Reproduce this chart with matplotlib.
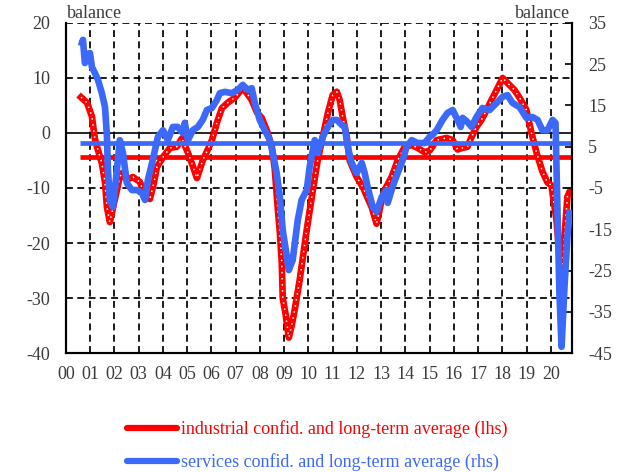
import numpy as np
import matplotlib.pyplot as plt
from matplotlib.lines import Line2D

plt.rcParams['font.family'] = ['Liberation Serif', 'DejaVu Serif']
plt.rcParams['axes.unicode_minus'] = False

# industrial confidence (lhs), decimal years
ind_t = [2000.62, 2000.87, 2001.07, 2001.19, 2001.28, 2001.48, 2001.61, 2001.69, 2001.81,
         2002.02, 2002.22, 2002.31, 2002.51, 2002.76, 2003.05, 2003.26, 2003.46, 2003.63,
         2003.75, 2004.00, 2004.29, 2004.57, 2004.78, 2005.03, 2005.19, 2005.40, 2005.64,
         2005.85, 2006.02, 2006.22, 2006.43, 2006.67, 2006.96, 2007.29, 2007.50, 2007.66,
         2007.87, 2008.08, 2008.28, 2008.49, 2008.61, 2008.74, 2008.82, 2008.90, 2008.94,
         2009.06, 2009.19, 2009.31, 2009.44, 2009.64, 2009.93, 2010.14, 2010.38, 2010.59,
         2010.80, 2011.00, 2011.17, 2011.29, 2011.41, 2011.58, 2011.70, 2011.99, 2012.24,
         2012.61, 2012.81, 2012.98, 2013.14, 2013.43, 2013.68, 2013.97, 2014.26, 2014.50,
         2014.79, 2015.00, 2015.29, 2015.70, 2015.95, 2016.15, 2016.36, 2016.56, 2016.73,
         2016.93, 2017.14, 2017.35, 2017.55, 2017.76, 2018.01, 2018.21, 2018.50, 2018.71,
         2018.99, 2019.20, 2019.41, 2019.65, 2019.86, 2020.02, 2020.23, 2020.35, 2020.44,
         2020.56, 2020.68, 2020.77]
ind_v = [6.5, 5.5, 3.0, -1.0, -2.5, -5.5, -9.0, -13.5, -16.2,
         -12.0, -8.0, -7.3, -8.5, -8.0, -8.9, -11.5, -12.0, -9.0,
         -6.2, -4.4, -2.7, -2.5, -1.0, -3.6, -5.5, -8.2, -5.0,
         -3.0, -1.3, 1.8, 4.5, 5.5, 6.4, 8.2, 7.0, 6.0,
         3.8, 2.7, 0.5, -2.5, -6.5, -14.0, -18.0, -23.6, -30.0,
         -33.0, -37.2, -35.0, -32.0, -26.7, -17.6, -11.6, -5.0, -0.7,
         3.6, 6.9, 7.5, 6.0, 3.0, -0.7, -5.0, -8.0, -9.8,
         -13.5, -16.5, -13.0, -10.4, -8.0, -5.0, -2.5, -2.2, -2.7,
         -3.5, -3.2, -1.3, -0.9, -1.3, -3.0, -2.7, -2.5, -0.7,
         1.1, 2.4, 4.2, 6.0, 7.8, 10.0, 9.1, 7.8, 6.4,
         4.2, 0.0, -3.6, -7.0, -9.0, -9.5, -15.8, -22.0, -27.0,
         -19.0, -11.6, -10.7]
ind_avg = -4.3

# services confidence (rhs), decimal years
srv_t = [2000.66, 2000.70, 2000.78, 2000.91, 2000.99, 2001.07, 2001.19, 2001.32, 2001.48,
         2001.61, 2001.69, 2001.73, 2001.81, 2001.94, 2002.10, 2002.22, 2002.35, 2002.51,
         2002.72, 2002.93, 2003.13, 2003.26, 2003.38, 2003.58, 2003.79, 2004.00, 2004.20,
         2004.41, 2004.61, 2004.82, 2004.90, 2005.03, 2005.23, 2005.44, 2005.64, 2005.81,
         2006.02, 2006.22, 2006.35, 2006.55, 2006.84, 2007.09, 2007.29, 2007.50, 2007.66,
         2007.79, 2007.99, 2008.20, 2008.41, 2008.53, 2008.69, 2008.82, 2008.94, 2009.11,
         2009.19, 2009.35, 2009.56, 2009.72, 2009.93, 2010.05, 2010.26, 2010.38, 2010.59,
         2010.80, 2011.00, 2011.17, 2011.37, 2011.50, 2011.62, 2011.78, 2011.99, 2012.20,
         2012.32, 2012.44, 2012.65, 2012.81, 2013.02, 2013.23, 2013.27, 2013.47, 2013.68,
         2013.89, 2014.05, 2014.26, 2014.50, 2014.79, 2015.00, 2015.12, 2015.29, 2015.53,
         2015.74, 2015.95, 2016.15, 2016.28, 2016.36, 2016.56, 2016.73, 2016.93, 2017.18,
         2017.47, 2017.76, 2018.01, 2018.21, 2018.42, 2018.71, 2018.99, 2019.24, 2019.45,
         2019.65, 2019.86, 2020.07, 2020.19, 2020.27, 2020.35, 2020.44, 2020.56, 2020.68,
         2020.77]
srv_v = [30.2, 30.9, 25.3, 27.5, 27.7, 24.3, 22.9, 21.2, 18.0,
         14.6, 7.4, -0.6, -7.9, -9.6, -0.6, 6.6, 3.5, -3.8,
         -5.5, -5.5, -6.2, -7.9, -3.0, 1.8, 7.4, 9.0, 6.6,
         9.8, 9.8, 8.3, 10.8, 6.6, 9.0, 9.8, 11.5, 13.9,
         14.4, 16.3, 18.0, 18.3, 18.0, 18.8, 20.0, 18.8, 19.2,
         15.6, 11.5, 9.0, 6.6, 3.5, -1.4, -7.0, -15.2, -21.7,
         -24.9, -22.5, -12.8, -7.9, -5.5, 0.1, 6.6, 3.5, 7.4,
         9.8, 11.5, 11.5, 10.3, 9.8, 5.0, 1.1, -1.4, 1.1,
         -1.4, -4.7, -9.6, -10.8, -7.2, -5.5, -8.6, -4.7, -1.4,
         1.8, 5.0, 6.6, 5.9, 5.9, 7.4, 7.9, 9.0, 11.5,
         13.2, 13.9, 11.5, 9.8, 12.0, 11.0, 9.8, 12.2, 14.4,
         13.9, 15.6, 17.1, 17.5, 15.6, 14.6, 12.0, 12.2, 11.5,
         9.0, 9.0, 11.5, 10.8, -10.0, -30.0, -43.5, -29.0, -16.9,
         -11.0]
srv_avg = 6.0

years = list(range(2000, 2021))
year_labels = ['%02d' % (y - 2000) for y in years]

RED = '#ff0000'
BLUE = '#3d69fa'
TXT = '#3a3a3a'
FS = 13
grid_ls = (0, (4, 2.5))

fig = plt.figure(figsize=(6.26, 4.72), dpi=100)
ax = fig.add_axes([0.1054, 0.2521, 0.8083, 0.6992])
ax2 = ax.twinx()

ax.set_xlim(2000, 2020.87)
ax.set_ylim(-40, 20)
ax2.set_ylim(-45, 35)

# grid
for y in [-30, -20, -10, 10, 20]:
    ax.axhline(y, color='black', lw=1.25, ls=grid_ls, zorder=1)
for x in years[1:]:
    ax.axvline(x, color='black', lw=1.25, ls=grid_ls, zorder=1)
ax.axhline(0, color='black', lw=1.2, zorder=1)

t0, t1 = ind_t[0] - 0.05, ax.get_xlim()[1]
ax.plot([t0, t1], [ind_avg, ind_avg], color=RED, lw=3.4, zorder=2, solid_capstyle='butt')
ax2.plot([t0, t1], [srv_avg, srv_avg], color=BLUE, lw=3.4, zorder=2, solid_capstyle='butt')

ax.plot(ind_t, ind_v, color=RED, lw=4.8, zorder=3, solid_joinstyle='round')
ax.plot(ind_t, ind_v, color='white', lw=1.1, ls=(0, (1, 3)), zorder=4)
ax2.plot(srv_t, srv_v, color=BLUE, lw=4.8, zorder=5, solid_joinstyle='round')

ax.set_xticks(years)
ax.set_xticklabels(year_labels)
ax.set_yticks([20, 10, 0, -10, -20, -30, -40])
ax2.set_yticks([35, 25, 15, 5, -5, -15, -25, -35, -45])

ax.tick_params(axis='x', length=0, pad=9, labelsize=FS, labelcolor=TXT)
ax.tick_params(axis='y', length=0, pad=11.5, labelsize=FS, labelcolor=TXT)
ax2.tick_params(axis='y', direction='in', length=5, width=1.2, pad=11.5, labelsize=FS, labelcolor=TXT)

for a in (ax, ax2):
    a.spines['top'].set_visible(False)
    for s in ('left', 'right', 'bottom'):
        a.spines[s].set_linewidth(1.5)
        a.spines[s].set_color('black')

fig.text(0.107, 0.972, 'balance', fontsize=FS, color=TXT, ha='left', va='center')
fig.text(0.911, 0.972, 'balance', fontsize=FS, color=TXT, ha='right', va='center')

handles = [Line2D([], [], color=RED, lw=4.5, solid_capstyle='round'),
           Line2D([], [], color=BLUE, lw=4.5, solid_capstyle='round')]
labels = ['industrial confid. and long-term average (lhs)',
          'services confid. and long-term average (rhs)']
fig.legend(handles, labels, loc='upper left', bbox_to_anchor=(0.203, 0.11),
           frameon=False, fontsize=FS, handlelength=2.77, handletextpad=0.22,
           labelspacing=0.85, borderpad=0, borderaxespad=0, labelcolor='linecolor')

fig.savefig('out.png', dpi=100)
